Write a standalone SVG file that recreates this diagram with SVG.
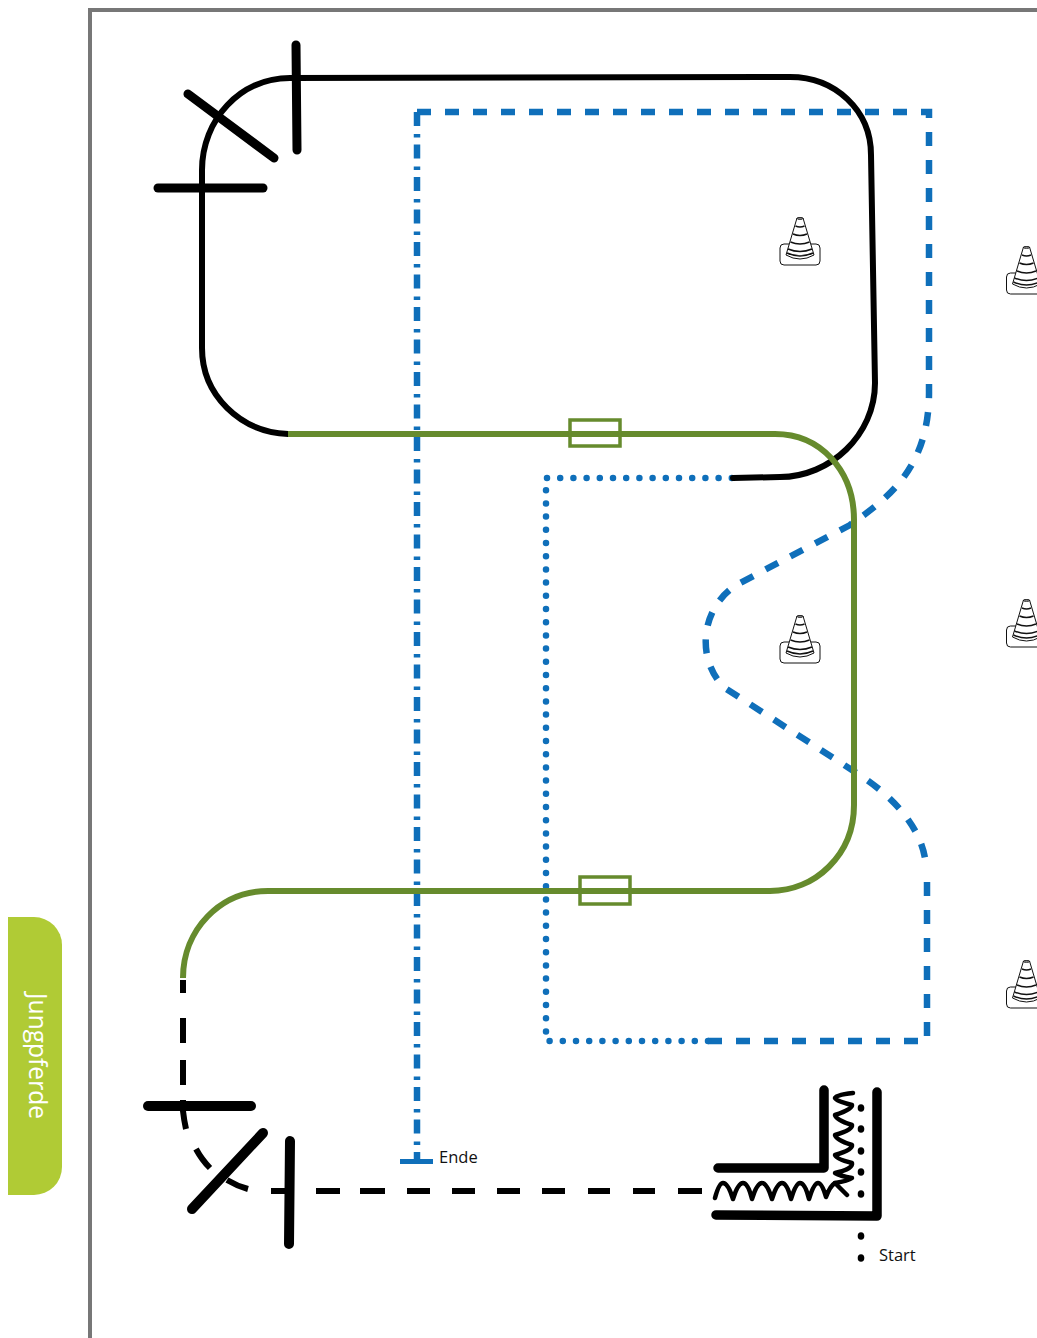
<svg xmlns="http://www.w3.org/2000/svg" width="1037" height="1338" viewBox="0 0 1037 1338">
<style>
.t{font-family:"Open Sans","Noto Sans",sans-serif}
.k{fill:none;stroke:#000;stroke-linecap:round;stroke-linejoin:round}
.b{fill:none;stroke:#0f6fba}
.g{fill:none;stroke:#668b2d}
.c{fill:#fff;stroke:#111;stroke-width:1}
</style>
<defs>
<g id="cone">
<rect x="-20" y="2" width="40" height="21" rx="4" class="c"/>
<path d="M-3 -24H3L14 13Q0 21 -14 13Z" class="c" stroke-width="1.4"/>
<path d="M-4.500 -16Q0 -14 4.500 -16M-7 -8Q0 -5 7 -8M-9.500 0Q0 4 9.500 0M-12 7Q0 12 12 7M-13 11Q0 17 13 11" fill="none" stroke="#111" stroke-width="1.400"/>
<ellipse cx="0" cy="-23.500" rx="3" ry="1" fill="none" stroke="#111" stroke-width=".8"/>
</g>
</defs>
<g id="frame"><path d="M90 1338V10H1037" fill="none" stroke="#777" stroke-width="4"/></g>
<g id="tab">
<path d="M8 917H34A28 28 0 0 1 62 945V1167A28 28 0 0 1 34 1195H8Z" fill="#b0cb35"/>
<text class="t" transform="translate(29 993) rotate(90)" font-size="25" fill="#fff" textLength="126" lengthAdjust="spacingAndGlyphs">Jungpferde</text>
</g>
<g id="cones">
<use href="#cone" x="800" y="242"/>
<use href="#cone" x="800" y="640"/>
<use href="#cone" x="1026.500" y="271"/>
<use href="#cone" x="1026.500" y="624"/>
<use href="#cone" x="1026.500" y="985"/>
</g>
<g id="connectors">
<path class="b" stroke-width="6.500" stroke-dasharray="14 14" d="M417 112H929V390C930 470 885 500 850 525L740 583C700 605 695 660 725 688L855 772C900 800 925 835 926 868"/>
<path class="b" stroke-width="6.500" stroke-dasharray="14 14" d="M708 1041H927V882"/>
<path class="b" stroke-width="6.500" stroke-dasharray="14 8 3.500 7" d="M417 112V1160"/>
<path class="b" stroke-width="6.500" stroke-linecap="round" stroke-dasharray="0 13.200" d="M708 1041H546V478H733"/>
<path class="k" stroke-width="6" stroke-linecap="butt" d="M288 434C240 432 202 395 202 348V170C202 120 240 78 290 78L790 77C835 77 871 110 871 155L875 383C875 435 830 477 780 477L733 478"/>
<path class="g" stroke-width="6" d="M288 434H775C820 434 854 470 854 520V805C854 855 815 891 770 891H268C220 891 183 930 183 978"/>
<rect class="g" x="570" y="420" width="50" height="26" stroke-width="3.500"/>
<rect class="g" x="580" y="877" width="50" height="27" stroke-width="3.500"/>
<path fill="none" stroke="#000" stroke-width="6" d="M183 980V993M183 1018V1043M183 1060V1085M183 1100V1111Q184 1120 186 1129M196 1149Q202 1160 210 1168M227 1180Q237 1186 248 1189M271 1191H285M316 1191H340M360 1191H385M407 1191H430M452 1191H475M497 1191H520M542 1191H565M588 1191H610M633 1191H655M678 1191H702"/>
</g>
<g id="gate-top">
<path class="k" stroke-width="9" d="M296 45L297 150"/>
<path class="k" stroke-width="9" d="M188 94L274 158"/>
<path class="k" stroke-width="9" d="M158 188H263"/>
</g>
<g id="gate-bottom">
<path class="k" stroke-width="10" d="M148 1106H251"/>
<path class="k" stroke-width="10" d="M192 1209L263 1133"/>
<path class="k" stroke-width="10" d="M290 1141L289 1244"/>
</g>
<g id="start">
<path class="k" stroke-width="9.500" d="M718 1168H824V1090M716 1215L877 1216V1092"/>
<path class="k" stroke-width="4.500" d="M715 1198Q719 1183 723 1183Q728 1183 733 1199Q738 1183 743 1183Q748 1183 752 1199Q757 1183 762 1183Q767 1183 772 1199Q777 1183 782 1183Q787 1183 791 1199Q796 1183 800 1183Q805 1183 809 1199Q814 1183 818 1183Q822 1183 826 1197Q830 1186 835 1183L847 1195"/>
<path class="k" stroke-width="4.500" d="M853 1093Q835 1095 835 1098Q836 1101 852 1105Q853 1109 835 1115Q836 1120 852 1125Q853 1130 835 1135Q836 1140 852 1145Q853 1150 835 1155Q836 1159 852 1163Q853 1169 835 1173Q840 1176 852 1178Q848 1181 835 1183"/>
<g fill="#000">
<ellipse cx="861" cy="1108" rx="3.300" ry="3.800"/>
<ellipse cx="861" cy="1129" rx="3.300" ry="3.800"/>
<ellipse cx="861" cy="1151" rx="3.300" ry="3.800"/>
<ellipse cx="861" cy="1172" rx="3.300" ry="3.800"/>
<ellipse cx="861" cy="1194" rx="3.300" ry="3.800"/>
<ellipse cx="861" cy="1236" rx="3.300" ry="3.800"/>
<ellipse cx="861" cy="1258" rx="3.300" ry="3.800"/>
</g>
<text class="t" x="879" y="1261" font-size="16.500" fill="#111">Start</text>
</g>
<g id="end">
<path d="M400 1161.500H433" stroke="#0f6fba" stroke-width="5" fill="none"/>
<text class="t" x="439" y="1163" font-size="16.500" fill="#111">Ende</text>
</g>
</svg>
